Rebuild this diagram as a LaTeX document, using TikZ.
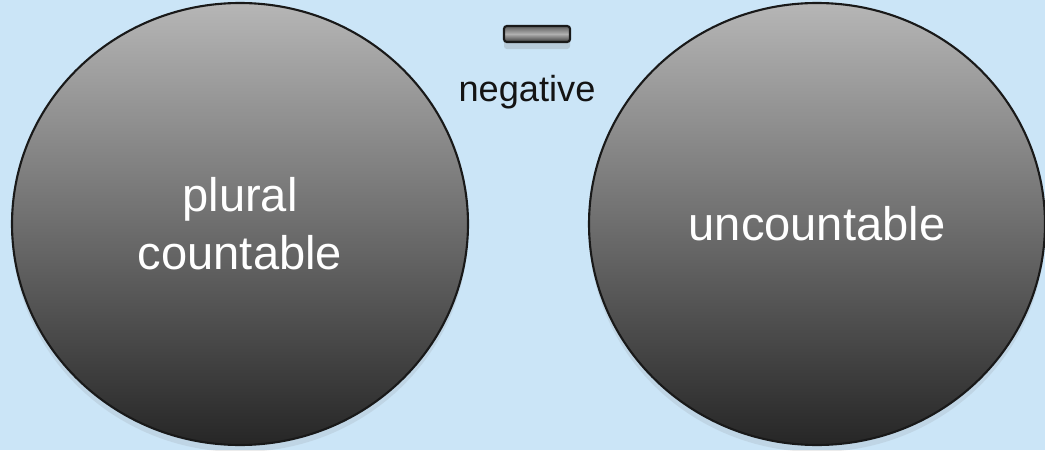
\documentclass[tikz,border=0pt]{standalone}
\usepackage{fontspec}
\setmainfont{Liberation Sans}
\usetikzlibrary{shapes.geometric,shadows}
\definecolor{vnSky}  {RGB}{203,229,247}
\definecolor{vnTop}  {RGB}{182,182,182}
\definecolor{vnBot}  {RGB}{ 38, 38, 38}
\definecolor{vnEdge} {RGB}{ 25, 25, 25}
\definecolor{vnSwTop}{RGB}{ 92, 92, 92}
\definecolor{vnSwMid}{RGB}{176,176,176}
\definecolor{vnSwBot}{RGB}{ 58, 58, 58}
\definecolor{vnInk}  {RGB}{ 20, 20, 20}

\begin{document}
\begin{tikzpicture}[
    every node/.style={align=center},
    disc/.style={ellipse,draw=vnEdge,line width=0.6pt,minimum width=4.56cm,
                 minimum height=4.42cm,inner sep=0pt,
                 top color=vnTop,bottom color=vnBot,text=white,
                 font=\fontsize{13.4}{16.5}\selectfont,
                 drop shadow={opacity=0.15,shadow xshift=0pt,shadow yshift=-2pt}},
    swatch/.style={rectangle,rounded corners=0.8pt,draw=vnEdge,line width=0.6pt,
                   minimum width=6.6mm,minimum height=1.6mm,inner sep=0pt,
                   top color=vnSwTop,bottom color=vnSwBot,middle color=vnSwMid,
                   drop shadow={opacity=0.25,shadow xshift=0pt,shadow yshift=-2pt}},
    lbl/.style={font=\fontsize{10.3}{12}\selectfont,text=vnInk}
  ]
  \fill[vnSky] (0,0) rectangle (10.45,4.5);
  \useasboundingbox (0,0) rectangle (10.45,4.5);
  % Circles
  \node[disc] (plural)  at (2.40,2.26) {plural\\countable};
  \node[disc] (uncount) at (8.17,2.26) {uncountable};
  % Key
  \node[swatch] (key) at (5.37,4.16) {};
  \node[lbl,anchor=base] (negative) at (5.27,3.49) {negative};
\end{tikzpicture}
\end{document}
